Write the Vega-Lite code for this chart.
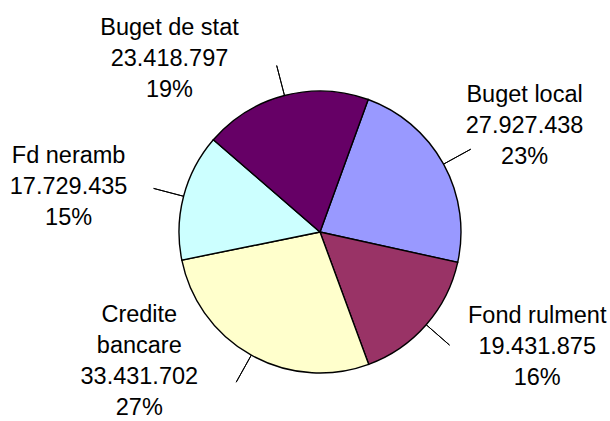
{
  "$schema": "https://vega.github.io/schema/vega-lite/v6.json",
  "width": 580,
  "height": 378,
  "autosize": {"type": "none"},
  "padding": {"left": 30, "top": 43, "right": 0, "bottom": 0},
  "background": "white",
  "config": {"view": {"stroke": null}},
  "data": {
    "values": [
      {"idx": 1, "categorie": "Buget local", "valoare": 27927438, "eticheta": ["Buget local", "27.927.438", "23%"]},
      {"idx": 2, "categorie": "Fond rulment", "valoare": 19431875, "eticheta": ["Fond rulment", "19.431.875", "16%"]},
      {"idx": 3, "categorie": "Credite bancare", "valoare": 33431702, "eticheta": ["Credite", "bancare", "33.431.702", "27%"]},
      {"idx": 4, "categorie": "Fd neramb", "valoare": 17729435, "eticheta": ["Fd neramb", "17.729.435", "15%"]},
      {"idx": 5, "categorie": "Buget de stat", "valoare": 23418797, "eticheta": ["Buget de stat", "23.418.797", "19%"]}
    ]
  },
  "encoding": {
    "theta": {"field": "valoare", "type": "quantitative", "stack": true, "scale": {"range": [0.349, 6.632]}},
    "order": {"field": "idx", "type": "quantitative"}
  },
  "layer": [
    {
      "mark": {"type": "arc", "outerRadius": 141, "stroke": "black", "strokeWidth": 1.4},
      "encoding": {
        "color": {
          "field": "categorie",
          "type": "nominal",
          "scale": {
            "domain": ["Buget local", "Fond rulment", "Credite bancare", "Fd neramb", "Buget de stat"],
            "range": ["#9999FF", "#993366", "#FFFFCC", "#CCFFFF", "#660066"]
          },
          "legend": null
        }
      }
    },
    {
      "mark": {"type": "arc", "innerRadius": 141, "outerRadius": 172, "padAngle": 3.14, "filled": false, "stroke": "black", "strokeWidth": 1},
      "encoding": {"detail": {"field": "categorie", "type": "nominal"}}
    },
    {
      "mark": {"type": "text", "radius": 141, "dx": 81, "dy": -62, "align": "center", "baseline": "alphabetic", "font": "Liberation Sans", "fontSize": 23.5, "lineHeight": 31, "color": "black"},
      "encoding": {
        "detail": {"field": "categorie", "type": "nominal"},
        "text": {"condition": {"test": "datum.categorie === 'Buget local'", "field": "eticheta"}, "value": ""}
      }
    },
    {
      "mark": {"type": "text", "radius": 141, "dx": 111, "dy": -2, "align": "center", "baseline": "alphabetic", "font": "Liberation Sans", "fontSize": 23.5, "lineHeight": 31, "color": "black"},
      "encoding": {
        "detail": {"field": "categorie", "type": "nominal"},
        "text": {"condition": {"test": "datum.categorie === 'Fond rulment'", "field": "eticheta"}, "value": ""}
      }
    },
    {
      "mark": {"type": "text", "radius": 141, "dx": -112, "dy": -33, "align": "center", "baseline": "alphabetic", "font": "Liberation Sans", "fontSize": 23.5, "lineHeight": 31, "color": "black"},
      "encoding": {
        "detail": {"field": "categorie", "type": "nominal"},
        "text": {"condition": {"test": "datum.categorie === 'Credite bancare'", "field": "eticheta"}, "value": ""}
      }
    },
    {
      "mark": {"type": "text", "radius": 141, "dx": -115, "dy": -33, "align": "center", "baseline": "alphabetic", "font": "Liberation Sans", "fontSize": 23.5, "lineHeight": 31, "color": "black"},
      "encoding": {
        "detail": {"field": "categorie", "type": "nominal"},
        "text": {"condition": {"test": "datum.categorie === 'Fd neramb'", "field": "eticheta"}, "value": ""}
      }
    },
    {
      "mark": {"type": "text", "radius": 141, "dx": -115, "dy": -61, "align": "center", "baseline": "alphabetic", "font": "Liberation Sans", "fontSize": 23.5, "lineHeight": 31, "color": "black"},
      "encoding": {
        "detail": {"field": "categorie", "type": "nominal"},
        "text": {"condition": {"test": "datum.categorie === 'Buget de stat'", "field": "eticheta"}, "value": ""}
      }
    }
  ]
}
